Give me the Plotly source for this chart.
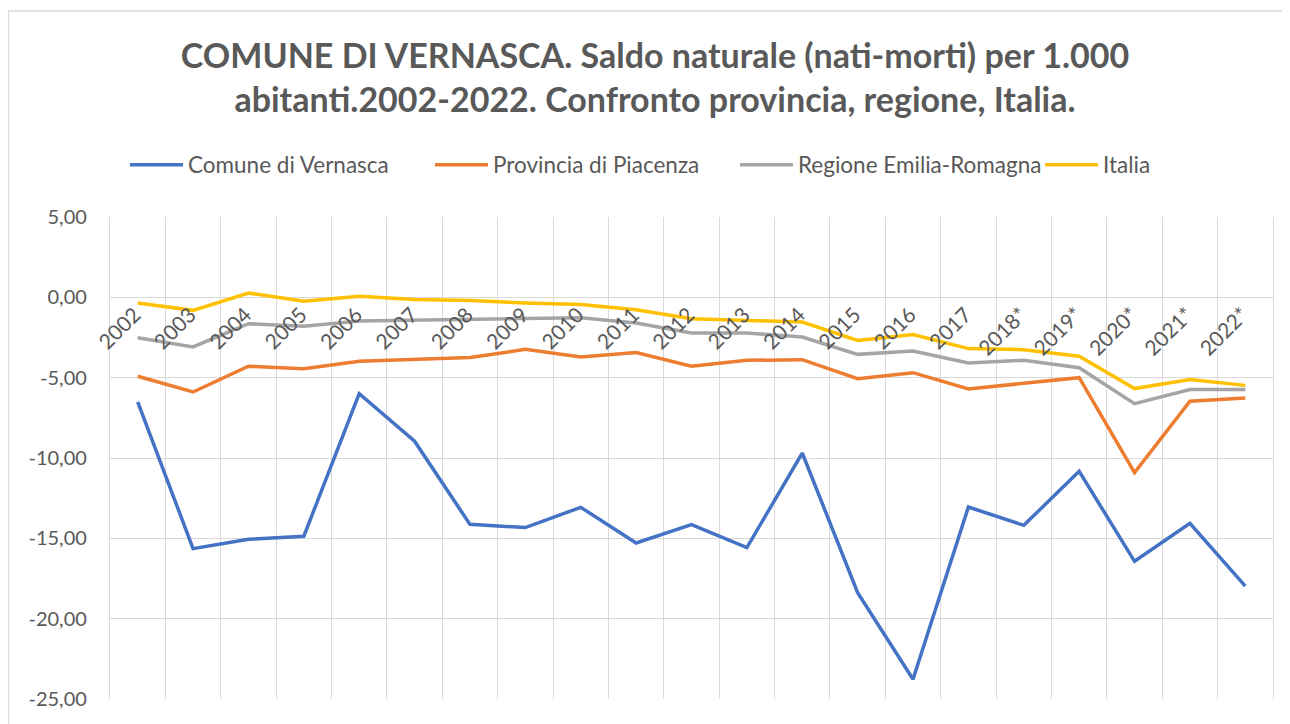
import plotly.graph_objects as go

years = ["2002", "2003", "2004", "2005", "2006", "2007", "2008", "2009", "2010", "2011",
         "2012", "2013", "2014", "2015", "2016", "2017", "2018*", "2019*", "2020*", "2021*", "2022*"]

comune = [-6.51, -15.64, -15.06, -14.87, -5.99, -8.96, -14.13, -14.33, -13.07, -15.29,
          -14.15, -15.58, -9.69, -18.38, -23.77, -13.05, -14.19, -10.83, -16.43, -14.06, -17.98]
provincia = [-4.91, -5.89, -4.29, -4.44, -3.98, -3.86, -3.75, -3.24, -3.71, -3.44,
             -4.29, -3.92, -3.88, -5.06, -4.69, -5.70, -5.33, -5.00, -10.91, -6.47, -6.27]
regione = [-2.51, -3.09, -1.64, -1.80, -1.47, -1.43, -1.37, -1.33, -1.27, -1.60,
           -2.22, -2.22, -2.47, -3.55, -3.34, -4.09, -3.92, -4.38, -6.62, -5.74, -5.74]
italia = [-0.35, -0.81, 0.27, -0.25, 0.06, -0.14, -0.19, -0.35, -0.44, -0.77,
          -1.33, -1.43, -1.54, -2.68, -2.32, -3.19, -3.26, -3.67, -5.68, -5.12, -5.48]

series_names = ["Comune di Vernasca", "Provincia di Piacenza", "Regione Emilia-Romagna", "Italia"]
series_values = [comune, provincia, regione, italia]
series_colors = ["#4472C4", "#ED7D31", "#A5A5A5", "#FFC000"]

y_ticks = [5, 0, -5, -10, -15, -20, -25]
y_ticktext = ["5,00", "0,00", "-5,00", "-10,00", "-15,00", "-20,00", "-25,00"]

title_text = ("COMUNE DI VERNASCA. Saldo naturale (nati-morti) per 1.000<br>"
              "abitanti.2002-2022. Confronto provincia, regione, Italia.")

FONT = "Lato"
GRAY = "#595959"
GRID = "#D9D9D9"

fig = go.Figure()
for name, vals, col in zip(series_names, series_values, series_colors):
    fig.add_trace(go.Scatter(x=years, y=vals, name=name, mode="lines",
                             line=dict(color=col, width=3.5)))

# page body has an 8px margin; figure coordinates below are relative to the figure
W, H = 1282, 716
mt, mb = 209, 25
ph = H - mt - mb
plot_left, plot_right = 102, 1265


def px_x(p):
    return p / W


def px_y(p):
    return (H - mb - p) / ph


fig.update_layout(
    width=W, height=H,
    margin=dict(l=0, r=0, t=mt, b=mb, autoexpand=False),
    paper_bgcolor="white", plot_bgcolor="white",
    font=dict(family=FONT, color=GRAY),
    title=dict(text=title_text, xref="container", x=647 / W, xanchor="center",
               yref="container", y=1 - 60 / H, yanchor="middle",
               font=dict(family=FONT, size=34, color=GRAY, weight="bold")),
    legend=dict(orientation="h", x=px_x(117), xanchor="left", y=px_y(157), yanchor="middle",
                font=dict(size=22.5, color=GRAY), entrywidth=237, entrywidthmode="pixels",
                itemwidth=53, bgcolor="rgba(0,0,0,0)"),
    xaxis=dict(type="category", range=[-0.5, 20.5], tickson="boundaries",
               domain=[plot_left / W, plot_right / W],
               showgrid=True, gridcolor=GRID, gridwidth=1.3,
               anchor="free", position=25 / 30, showline=False,
               ticks="outside", ticklen=32, tickcolor="rgba(0,0,0,0)",
               ticklabelshift=-3,
               tickangle=-45, tickfont=dict(size=21, color=GRAY)),
    yaxis=dict(range=[-25, 5], tickvals=y_ticks, ticktext=y_ticktext,
               showgrid=True, gridcolor=GRID, gridwidth=1.3, zeroline=False,
               showline=True, linecolor=GRID, linewidth=1.3, mirror=True,
               ticks="", ticklabelstandoff=18,
               tickfont=dict(size=20, color=GRAY)),
    shapes=[dict(type="rect", xref="paper", yref="paper",
                 x0=px_x(0.5), x1=px_x(1300), y0=px_y(740), y1=px_y(3),
                 line=dict(color=GRID, width=1.3), fillcolor="rgba(0,0,0,0)", layer="below")],
)

fig.write_html("out.html")
